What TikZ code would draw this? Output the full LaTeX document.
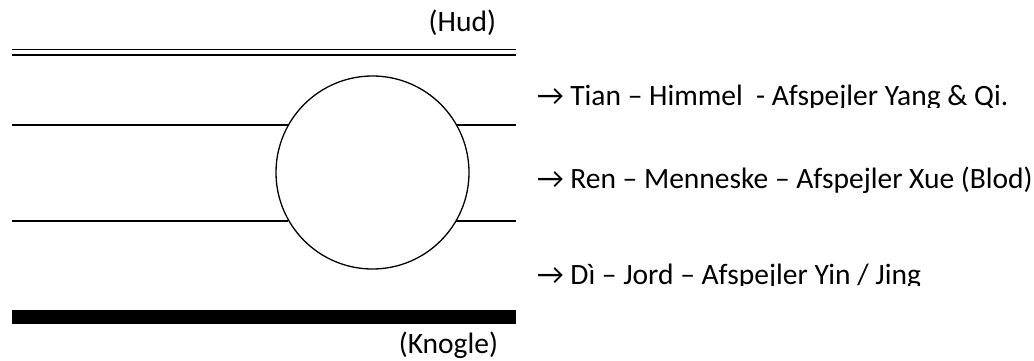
\documentclass[tikz,border=0pt]{standalone}
\usepackage{fontspec}
\setmainfont{Carlito}
\begin{document}
\begin{tikzpicture}[x=1pt,y=-1pt,
  lbl/.style={inner sep=0pt, outer sep=0pt, font=\fontsize{29.5}{35}\selectfont, anchor=base west},
  lblr/.style={lbl, anchor=base east},
  layer/.style={line width=1.3pt, draw=black},
  skin/.style={line width=1.8pt, draw=black},
  bone/.style={fill=black, draw=none}]
\fill[white] (0,0) rectangle (1034,361);
\useasboundingbox (0,0) rectangle (1034,361);
% skin (double line)
\coordinate (s1a) at (12,49.5); \coordinate (s1b) at (516,49.5);
\coordinate (s2a) at (12,55); \coordinate (s2b) at (516,55);
\draw[skin] (s1a) -- (s1b);
\draw[skin] (s2a) -- (s2b);
% circle
\node[circle, draw, line width=1.3pt, inner sep=0pt, outer sep=0pt, minimum size=193pt] (c) at (372.5,172.5) {};
% horizontal lines
\coordinate (l1) at (12,125); \coordinate (r1) at (516,125);
\coordinate (l2) at (12,221); \coordinate (r2) at (516,221);
\draw[layer] (l1) -- (l1 -| c.150.5);
\draw[layer] (r1 -| c.29.5) -- (r1);
\draw[layer] (l2) -- (l2 -| c.209.5);
\draw[layer] (r2 -| c.330.5) -- (r2);
% bone
\node[bone, inner sep=0pt, minimum width=504pt, minimum height=14pt, anchor=north west] (bone) at (12,310) {};
% labels
\node[lblr] (hud) at (496,32) {(Hud)};
\node[lblr] (knogle) at (498,353) {(Knogle)};
\begin{scope}
\clip (530,60) rectangle (1034,107.5);
\node[lbl] (tian) at (537,106) {→ Tian – Himmel\ \ - Afspejler Yang \& Qi.};
\end{scope}
\node[lbl] (ren) at (537,188) {→ Ren – Menneske – Afspejler Xue (Blod)};
\begin{scope}
\clip (530,240) rectangle (1034,285);
\node[lbl] (di) at (537,284) {→ Dì – Jord – Afspejler Yin / Jing};
\end{scope}
\end{tikzpicture}
\end{document}
